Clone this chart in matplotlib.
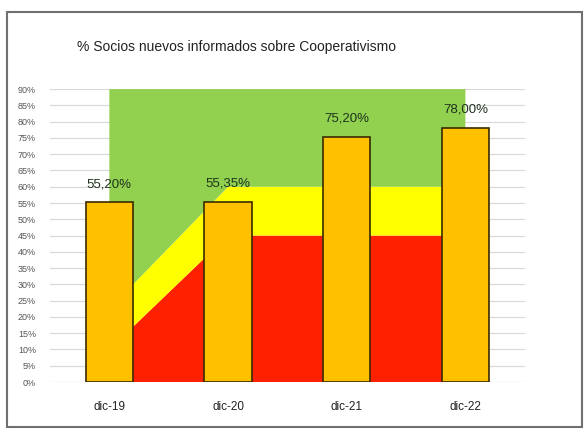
import matplotlib.pyplot as plt
import numpy as np
from matplotlib.patches import Rectangle

periodos = ['dic-19', 'dic-20', 'dic-21', 'dic-22']
informados = [55.20, 55.35, 75.20, 78.00]
etiquetas = ['55,20%', '55,35%', '75,20%', '78,00%']

# bandas de referencia (apiladas): rojo, amarillo, verde hasta 90%
banda_roja = [10.0, 45.0, 45.0, 45.0]
banda_amarilla = [12.5, 15.0, 15.0, 15.0]
banda_verde = [67.5, 30.0, 30.0, 30.0]

plt.rcParams['font.family'] = ['Liberation Sans', 'DejaVu Sans']

fig = plt.figure(figsize=(5.85, 4.32), dpi=100)
ax = fig.add_axes([0.0855, 0.1157, 0.8115, 0.678])

x = np.arange(len(periodos))
ax.stackplot(x, banda_roja, banda_amarilla, banda_verde,
             colors=['#FF2000', '#FFFF00', '#92D050'], zorder=1)
ax.bar(x, informados, width=0.4, color='#FFC000', edgecolor='#3a2a00',
       linewidth=1.2, zorder=3)

for xi, v, t in zip(x, informados, etiquetas):
    ax.text(xi, v + 3.8, t, ha='center', va='bottom', fontsize=9.5,
            color='#1e321e', zorder=4)

ax.set_xlim(-0.5, 3.5)
ax.set_ylim(0, 90)
ax.set_yticks(np.arange(0, 91, 5))
ax.set_yticklabels([f'{v}%' for v in range(0, 91, 5)], fontsize=6.5,
                   color='#555555')
ax.set_xticks(x)
ax.set_xticklabels(periodos, fontsize=8.5, color='#222222')
ax.tick_params(length=0)
ax.tick_params(axis='y', pad=10)
ax.tick_params(axis='x', pad=14)
ax.grid(axis='y', color='#d9d9d9', linewidth=0.9, zorder=0)
ax.set_axisbelow(True)
for s in ax.spines.values():
    s.set_visible(False)

fig.text(77 / 585, 1 - 47 / 432, '% Socios nuevos informados sobre Cooperativismo',
         fontsize=10, color='#222222', va='center', ha='left')

# marco exterior
fig.patches.append(Rectangle((7 / 585, 5 / 432), 575 / 585, 415 / 432,
                             transform=fig.transFigure, fill=False,
                             edgecolor='#707070', linewidth=1.5))

fig.savefig('out.png', dpi=100)
